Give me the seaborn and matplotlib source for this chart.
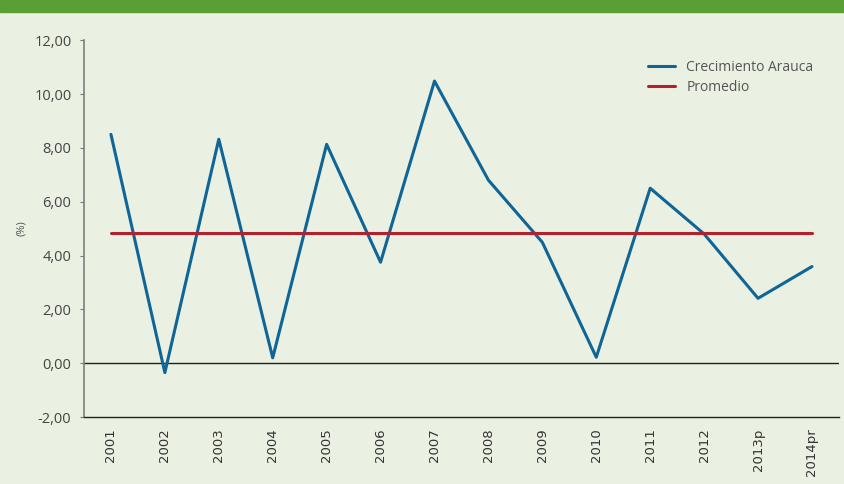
import seaborn as sns
import matplotlib.pyplot as plt
import matplotlib.patches as mpatches
import pandas as pd

# datos
years = ['2001', '2002', '2003', '2004', '2005', '2006', '2007',
         '2008', '2009', '2010', '2011', '2012', '2013p', '2014pr']
crecimiento = [8.50, -0.35, 8.32, 0.20, 8.13, 3.75, 10.48,
               6.80, 4.49, 0.22, 6.50, 4.80, 2.41, 3.59]
promedio = [4.84] * len(years)
yticks = [-2, 0, 2, 4, 6, 8, 10, 12]

bg = '#EAF0E2'
blue = '#0F6596'
red = '#B3202E'

sns.set_style('white')
plt.rcParams['font.family'] = ['Open Sans', 'DejaVu Sans']

df = pd.DataFrame({'Año': years, 'Crecimiento Arauca': crecimiento, 'Promedio': promedio})

fig = plt.figure(figsize=(8.44, 4.84), dpi=100, facecolor=bg)
ax = fig.add_axes([0.0995, 0.1384, 0.8945, 0.7786])
ax.set_facecolor(bg)

# franja verde superior
fig.patches.append(mpatches.Rectangle((0, 1 - 12 / 484), 1, 12 / 484,
                                      transform=fig.transFigure, color='#5A9E36', zorder=0))

sns.lineplot(data=df, x='Año', y='Crecimiento Arauca', color=blue, linewidth=2.2,
             sort=False, ax=ax, label='Crecimiento Arauca')
sns.lineplot(data=df, x='Año', y='Promedio', color=red, linewidth=2.2,
             sort=False, ax=ax, label='Promedio')

ax.axhline(0, color='#222222', linewidth=1, zorder=1)

ax.set_xlim(-0.5, len(years) - 0.5)
ax.set_ylim(-2, 12)
ax.set_yticks(yticks)
ax.set_yticklabels([f'{v:.2f}'.replace('.', ',') for v in yticks])
ax.set_xticks(range(len(years)))
ax.set_xticklabels(years, rotation=90, family='DejaVu Sans', fontsize=9.5, color='#333333')
ax.tick_params(axis='y', labelsize=10.5, labelcolor='#444444', length=3, width=0.8,
               color='#777777', left=True, pad=6)
ax.tick_params(axis='x', length=0, pad=8)

ax.set_xlabel('')
ax.set_ylabel('(%)', fontsize=8, color='#555555')
ax.yaxis.set_label_coords(-0.076, 0.5)

for s in ['top', 'right']:
    ax.spines[s].set_visible(False)
ax.spines['left'].set_color('#808080')
ax.spines['left'].set_linewidth(1.2)
ax.spines['bottom'].set_color('#222222')
ax.spines['bottom'].set_linewidth(1)

leg = ax.legend(loc='upper right', bbox_to_anchor=(0.983, 0.98), frameon=False,
                fontsize=10, handlelength=2.0, labelspacing=0.35)
for t in leg.get_texts():
    t.set_color('#555555')

fig.savefig('out.png', dpi=100, facecolor=bg)
